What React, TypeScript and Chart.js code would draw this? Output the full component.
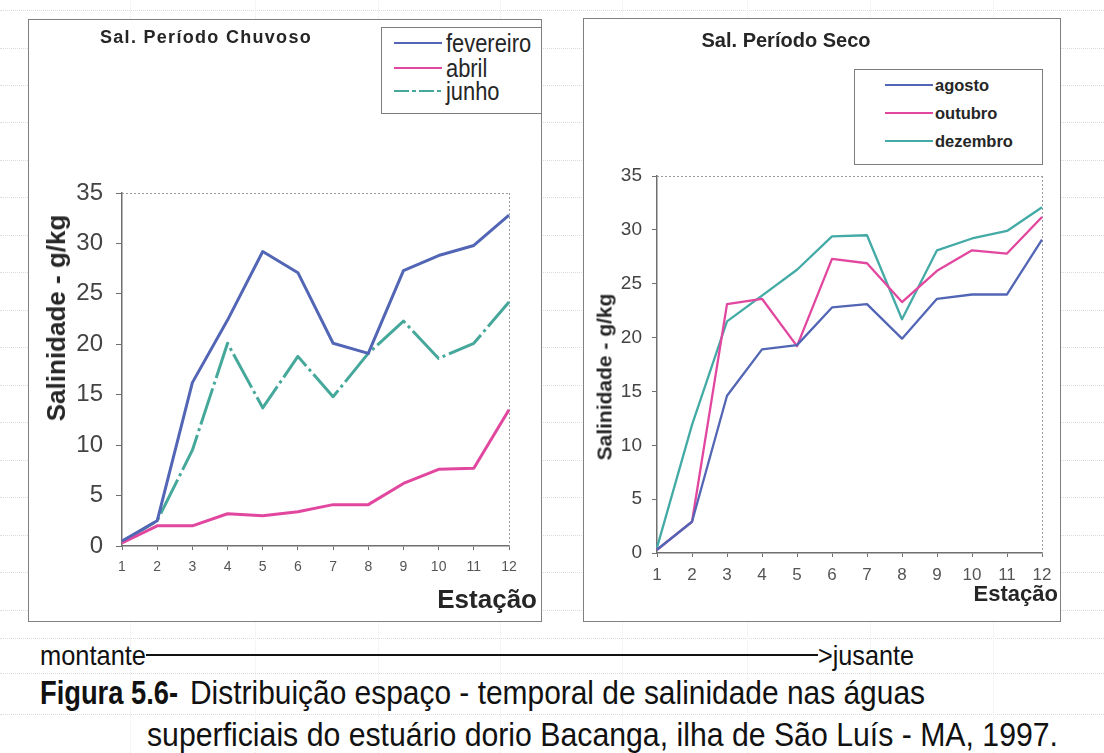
import React, { useEffect, useLayoutEffect, useRef } from "react";
import { Chart, registerables } from "chart.js";

Chart.register(...registerables);

// Sampling stations along the estuary (upstream -> downstream)
const stations = ["1", "2", "3", "4", "5", "6", "7", "8", "9", "10", "11", "12"];
const salinityTicks = [0, 5, 10, 15, 20, 25, 30, 35];

// Rainy season salinity (g/kg)
const fevereiro = [0.5, 2.5, 16.2, 22.4, 29.2, 27.1, 20.1, 19.1, 27.3, 28.8, 29.8, 32.8];
const abril = [0.3, 2.0, 2.0, 3.2, 3.0, 3.4, 4.1, 4.1, 6.2, 7.6, 7.7, 13.5];
const junho = [0.4, 2.5, 9.5, 20.1, 13.7, 18.8, 14.8, 19.1, 22.3, 18.6, 20.1, 24.2];

// Dry season salinity (g/kg)
const agosto = [0.3, 2.9, 14.6, 18.9, 19.3, 22.8, 23.1, 19.9, 23.6, 24.0, 24.0, 29.1];
const outubro = [0.3, 2.9, 23.1, 23.6, 19.2, 27.3, 26.9, 23.3, 26.2, 28.1, 27.8, 31.2];
const dezembro = [0.5, 11.9, 21.5, 23.9, 26.3, 29.4, 29.5, 21.7, 28.1, 29.2, 29.9, 32.1];

const PAGE_W = 1104;
const PAGE_H = 753;
const SANS = "'Liberation Sans', Arial, Helvetica, sans-serif";
const INK = "#262626";
const AXIS = "#6f6f6f";

const BLUE = "#5266b5";
const MAGENTA = "#e2479f";
const TEAL = "#46a89a";
const TEAL_DRY = "#43aaa6";

type Series = { label: string; data: number[]; color: string; dash: number[]; keyDash: number[] };

const chuvoso: Series[] = [
  { label: "fevereiro", data: fevereiro, color: BLUE, dash: [], keyDash: [] },
  { label: "abril", data: abril, color: MAGENTA, dash: [], keyDash: [] },
  { label: "junho", data: junho, color: TEAL, dash: [38, 4, 3, 4], keyDash: [15, 3, 4, 3] },
];

const seco: Series[] = [
  { label: "agosto", data: agosto, color: BLUE, dash: [], keyDash: [] },
  { label: "outubro", data: outubro, color: MAGENTA, dash: [], keyDash: [] },
  { label: "dezembro", data: dezembro, color: TEAL_DRY, dash: [], keyDash: [] },
];

type Frame = {
  left: number;
  top: number;
  width: number;
  height: number;
  padTop: number;
  padRight: number;
  yWidth: number;
  xHeight: number;
  yFont: number;
  xFont: number;
  yPad: number;
  xPad: number;
  yTick: number;
  lineWidth: number;
};

// dotted top/right edges of the plot area
const plotFrame = {
  id: "plotFrame",
  beforeDatasetsDraw(chart: any) {
    const { ctx, chartArea } = chart;
    ctx.save();
    ctx.strokeStyle = "#9a9a9a";
    ctx.lineWidth = 1;
    ctx.setLineDash([2, 2]);
    ctx.beginPath();
    ctx.moveTo(chartArea.left, chartArea.top + 0.5);
    ctx.lineTo(chartArea.right, chartArea.top + 0.5);
    ctx.moveTo(chartArea.right + 0.5, chartArea.top);
    ctx.lineTo(chartArea.right + 0.5, chartArea.bottom);
    ctx.stroke();
    ctx.restore();
  },
};

function SalinityChart({ series, frame }: { series: Series[]; frame: Frame }) {
  const ref = useRef<HTMLCanvasElement>(null);
  useEffect(() => {
    const chart = new Chart(ref.current as HTMLCanvasElement, {
      type: "line",
      data: {
        labels: stations,
        datasets: series.map((s) => ({
          label: s.label,
          data: s.data,
          borderColor: s.color,
          backgroundColor: s.color,
          borderWidth: frame.lineWidth,
          borderDash: s.dash,
          borderJoinStyle: "round",
          pointRadius: 0,
          tension: 0,
          fill: false,
        })),
      },
      options: {
        animation: false,
        responsive: false,
        maintainAspectRatio: false,
        devicePixelRatio: 1,
        layout: { padding: { left: 0, top: frame.padTop, right: frame.padRight, bottom: 0 } },
        plugins: {
          legend: { display: false },
          title: { display: false },
          tooltip: { enabled: false },
        },
        scales: {
          x: {
            offset: false,
            grid: { display: true, drawOnChartArea: false, drawTicks: true, tickLength: 4, color: AXIS, lineWidth: 1 },
            border: { display: true, color: AXIS, width: 1.5 },
            ticks: {
              autoSkip: false,
              maxRotation: 0,
              padding: frame.xPad,
              color: "#555",
              font: { family: SANS, size: frame.xFont },
            },
            afterFit: (s: any) => {
              s.height = frame.xHeight;
            },
          },
          y: {
            min: 0,
            max: 35,
            afterBuildTicks: (s: any) => {
              s.ticks = salinityTicks.map((v) => ({ value: v }));
            },
            grid: { display: true, drawOnChartArea: false, drawTicks: true, tickLength: frame.yTick, color: AXIS, lineWidth: 1 },
            border: { display: true, color: AXIS, width: 1.5 },
            ticks: {
              padding: frame.yPad,
              color: "#444",
              font: { family: SANS, size: frame.yFont },
            },
            afterFit: (s: any) => {
              s.width = frame.yWidth;
            },
          },
        },
      } as any,
      plugins: [plotFrame],
    });
    return () => chart.destroy();
  }, []);
  return (
    <canvas
      ref={ref}
      width={frame.width}
      height={frame.height}
      style={{ position: "absolute", left: frame.left, top: frame.top, width: frame.width, height: frame.height }}
    />
  );
}

type LabelProps = {
  x: number;
  baseline: number;
  size: number;
  weight?: number;
  align?: "left" | "right" | "center";
  color?: string;
  spacing?: number;
  squeeze?: number; // fixed horizontal condensing factor
  fit?: number; // condense horizontally to this width (left aligned)
  children: React.ReactNode;
};

function Label({
  x,
  baseline,
  size,
  weight = 400,
  align = "left",
  color = INK,
  spacing = 0,
  squeeze,
  fit,
  children,
}: LabelProps) {
  const ref = useRef<HTMLDivElement>(null);
  useLayoutEffect(() => {
    if (!fit || !ref.current) return;
    const el = ref.current;
    el.style.transform = "none";
    const w = el.getBoundingClientRect().width;
    if (w > 0) el.style.transform = `scaleX(${fit / w})`;
  }, [fit]);
  const style: React.CSSProperties = {
    position: "absolute",
    top: baseline - 0.85 * size,
    fontSize: size,
    lineHeight: 1,
    fontWeight: weight,
    fontFamily: SANS,
    color,
    whiteSpace: "nowrap",
    letterSpacing: spacing,
    transformOrigin: "left center",
  };
  if (align === "left") style.left = x;
  else if (align === "right") {
    style.right = PAGE_W - x;
    style.transformOrigin = "right center";
  } else {
    style.left = x;
    style.transform = "translateX(-50%)";
  }
  if (squeeze && align === "left") style.transform = `scaleX(${squeeze})`;
  return (
    <div ref={ref} style={style}>
      {children}
    </div>
  );
}

function VerticalTitle({ cx, cy, size, children }: { cx: number; cy: number; size: number; children: React.ReactNode }) {
  return (
    <div
      style={{
        position: "absolute",
        left: cx,
        top: cy,
        transform: "translate(-50%, -50%) rotate(-90deg)",
        fontFamily: SANS,
        fontWeight: 700,
        fontSize: size,
        lineHeight: 1,
        color: INK,
        whiteSpace: "nowrap",
      }}
    >
      {children}
    </div>
  );
}

type LegendSpec = {
  left: number;
  top: number;
  width: number;
  height: number;
  lineX: number;
  lineW: number;
  textX: number;
  rows: number[];
  size: number;
  weight: number;
  squeeze?: number;
  lineWidth: number;
};

function Legend({ series, spec }: { series: Series[]; spec: LegendSpec }) {
  return (
    <>
      <div
        style={{
          position: "absolute",
          left: spec.left,
          top: spec.top,
          width: spec.width,
          height: spec.height,
          border: "1.5px solid #7d7d7d",
          boxSizing: "border-box",
          background: "#fff",
        }}
      />
      {series.map((s, i) => (
        <React.Fragment key={s.label}>
          <svg
            style={{ position: "absolute", left: spec.lineX, top: spec.rows[i] - 3 }}
            width={spec.lineW}
            height={6}
          >
            <line
              x1={0}
              y1={3}
              x2={spec.lineW}
              y2={3}
              stroke={s.color}
              strokeWidth={spec.lineWidth}
              strokeDasharray={s.keyDash.length ? s.keyDash.join(" ") : undefined}
            />
          </svg>
          <Label
            x={spec.textX}
            baseline={spec.rows[i] + 0.38 * spec.size}
            size={spec.size}
            weight={spec.weight}
            squeeze={spec.squeeze}
          >
            {s.label}
          </Label>
        </React.Fragment>
      ))}
    </>
  );
}

// faint worksheet rulings behind the figure
const ruleRows = [10, 48, 85, 122, 160, 197, 235, 272, 310, 347, 385, 422, 460, 497, 535, 572, 610, 638, 673, 714];
const ruleCols = [130, 255, 378, 500, 622, 747, 870, 993];

export default function App() {
  const leftFrame: Frame = {
    left: 28,
    top: 19,
    width: 514,
    height: 603,
    padTop: 174,
    padRight: 33,
    yWidth: 94,
    xHeight: 76,
    yFont: 24,
    xFont: 14,
    yPad: 13,
    xPad: 9,
    yTick: 6,
    lineWidth: 3,
  };
  const rightFrame: Frame = {
    left: 583,
    top: 18,
    width: 478,
    height: 604,
    padTop: 158,
    padRight: 19,
    yWidth: 74,
    xHeight: 69,
    yFont: 19,
    xFont: 17,
    yPad: 10,
    xPad: 8,
    yTick: 5,
    lineWidth: 2.3,
  };

  return (
    <div
      style={{
        position: "absolute",
        left: 0,
        top: 0,
        width: PAGE_W,
        height: PAGE_H,
        overflow: "hidden",
        background: "#fff",
      }}
    >
      {ruleRows.map((y) => (
        <div
          key={"r" + y}
          style={{ position: "absolute", left: 0, top: y, width: PAGE_W, borderTop: "1px dotted #dcdcdc" }}
        />
      ))}
      {ruleCols.map((x) => (
        <div
          key={"c" + x}
          style={{ position: "absolute", left: x, top: 0, height: PAGE_H, borderLeft: "1px dotted #ececec" }}
        />
      ))}

      {/* chart frames */}
      <div
        style={{
          position: "absolute",
          left: 28,
          top: 19,
          width: 514,
          height: 603,
          border: "1.5px solid #808080",
          boxSizing: "border-box",
          background: "#fff",
        }}
      />
      <div
        style={{
          position: "absolute",
          left: 583,
          top: 18,
          width: 478,
          height: 604,
          border: "1.5px solid #808080",
          boxSizing: "border-box",
          background: "#fff",
        }}
      />

      <SalinityChart series={chuvoso} frame={leftFrame} />
      <SalinityChart series={seco} frame={rightFrame} />

      {/* rainy season panel text */}
      <Label x={206} baseline={43} size={18} weight={700} align="center" spacing={1.3}>
        Sal. Período Chuvoso
      </Label>
      <Legend
        series={chuvoso}
        spec={{
          left: 381,
          top: 27,
          width: 161,
          height: 87,
          lineX: 394,
          lineW: 48,
          textX: 446,
          rows: [43, 68, 91],
          size: 25,
          weight: 400,
          squeeze: 0.875,
          lineWidth: 2,
        }}
      />
      <VerticalTitle cx={56} cy={318} size={26}>
        Salinidade - g/kg
      </VerticalTitle>
      <Label x={537} baseline={608} size={26} weight={700} align="right">
        Estação
      </Label>

      {/* dry season panel text */}
      <Label x={786} baseline={47} size={20} weight={700} align="center">
        Sal. Período Seco
      </Label>
      <Legend
        series={seco}
        spec={{
          left: 854,
          top: 69,
          width: 189,
          height: 96,
          lineX: 885,
          lineW: 48,
          textX: 935,
          rows: [85, 113, 141],
          size: 16.5,
          weight: 700,
          lineWidth: 2,
        }}
      />
      <VerticalTitle cx={604} cy={377} size={21}>
        Salinidade - g/kg
      </VerticalTitle>
      <Label x={1058} baseline={602} size={22} weight={700} align="right">
        Estação
      </Label>

      {/* flow direction */}
      <Label x={40} baseline={666} size={28} color="#111" fit={106}>
        montante
      </Label>
      <div style={{ position: "absolute", left: 146, top: 654, width: 672, height: 2, background: "#111" }} />
      <Label x={818} baseline={666} size={28} color="#111" fit={96}>
        {">jusante"}
      </Label>

      {/* figure caption */}
      <Label x={40} baseline={704} size={33} weight={700} color="#111" fit={138}>
        Figura 5.6-
      </Label>
      <Label x={190} baseline={704} size={33} color="#111" fit={735}>
        Distribuição espaço - temporal de salinidade nas águas
      </Label>
      <Label x={147} baseline={746} size={33} color="#111" fit={911}>
        superficiais do estuário dorio Bacanga, ilha de São Luís - MA, 1997.
      </Label>
    </div>
  );
}
